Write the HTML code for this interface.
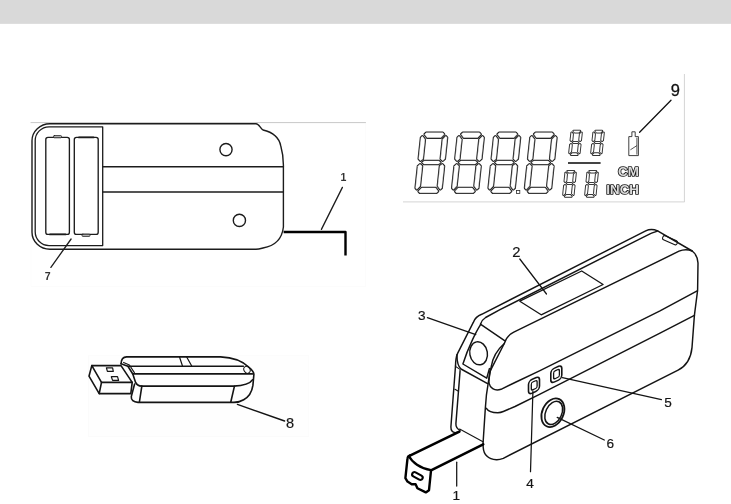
<!DOCTYPE html>
<html>
<head>
<meta charset="utf-8">
<title>Device diagram</title>
<style>
html,body{margin:0;padding:0;background:#fff;}
body{width:731px;height:504px;overflow:hidden;position:relative;font-family:"Liberation Sans",sans-serif;}
#bar{position:absolute;left:0;top:0;width:731px;height:23px;background:#d9d9d9;border-bottom:1px solid #dedede;}
svg{position:absolute;left:0;top:0;will-change:transform;}
text{font-family:"Liberation Sans",sans-serif;}
</style>
</head>
<body>
<div id="bar"></div>
<svg width="731" height="504" viewBox="0 0 731 504">

<rect x="31" y="122.6" width="334.7" height="163.7" fill="#fff" stroke="#fbfbfb" stroke-width="0.6"/>
<rect x="88.6" y="355.8" width="220.2" height="80.7" fill="#fefefe" stroke="#f9f9f9" stroke-width="0.6"/>
<!-- ============ TOP-LEFT : back view of device ============ -->
<g id="backview" fill="none" stroke="#1c1c1c" stroke-width="1.2" stroke-linecap="round" stroke-linejoin="round">
  <line x1="31" y1="122.6" x2="365.5" y2="122.6" stroke="#c8c8c8" stroke-width="1"/>
  <!-- outer outline -->
  <path d="M50,123.7 L256,123.7 C259,123.7 260.5,128.5 263,130 C272,132 279,137 280.8,146 C282.5,152 283.4,158 283.4,165 L283.4,227 C282,240 274,246 263,248 C260,248.8 258,249.3 256,249.3 L50,249.3 A18,17 0 0 1 32,232.3 L32,140.7 A18,17 0 0 1 50,123.7 Z" stroke-width="1.4"/>
  <!-- inner battery-bay outline -->
  <path d="M102.7,126.8 L49,126.8 A13.8,13.8 0 0 0 35.2,140.6 L35.2,231.8 A13.8,13.8 0 0 0 49,245.6 L102.7,245.6 Z" stroke-width="1.3"/>
  <!-- band lines -->
  <line x1="102.7" y1="166.8" x2="283.4" y2="166.8" stroke-width="1.4"/>
  <line x1="102.7" y1="192" x2="283.4" y2="192" stroke-width="1.4"/>
  <!-- batteries -->
  <rect x="45.8" y="137.4" width="23.6" height="97" rx="2.2" ry="2.2" stroke-width="1.35"/>
  <rect x="74.3" y="137.4" width="23.9" height="97" rx="2.2" ry="2.2" stroke-width="1.35"/>
  <rect x="53.5" y="135.6" width="8" height="2.2" rx="0.8" fill="#bdbdbd" stroke-width="0.8"/>
  <rect x="82" y="234.2" width="8" height="2.2" rx="0.8" fill="#bdbdbd" stroke-width="0.8"/>
  <line x1="50" y1="234.4" x2="65.5" y2="234.4" stroke-width="1.8"/>
  <line x1="79" y1="137.4" x2="93.5" y2="137.4" stroke-width="1.8"/>
  <!-- screw holes -->
  <circle cx="226" cy="149.6" r="6.1" stroke-width="1.4"/>
  <circle cx="239.4" cy="220.4" r="6.1" stroke-width="1.4"/>
  <!-- tape-back -->
  <path d="M283.6,232 L345.5,232 L345.5,255.4" stroke="#000" stroke-width="2.4" stroke-linecap="butt" stroke-linejoin="round"/>
  <!-- leaders -->
  <line x1="342.4" y1="187.4" x2="321.4" y2="229.4" stroke-width="1.3"/>
  <line x1="71.1" y1="239" x2="50.9" y2="267.4" stroke-width="1.3"/>
</g>
<text x="343.4" y="180.8" font-size="10.6" font-weight="bold" text-anchor="middle" fill="#333">1</text>
<text x="47.6" y="279.9" font-size="10.6" font-weight="bold" text-anchor="middle" fill="#333">7</text>

<!-- ============ TOP-RIGHT : LCD ============ -->
<g id="lcd">
  <line x1="403" y1="201.9" x2="684.6" y2="201.9" stroke="#d4d4d4" stroke-width="1"/>
  <line x1="684.4" y1="74" x2="684.4" y2="202" stroke="#d4d4d4" stroke-width="1"/>
  <g fill="#222" stroke="#222" stroke-width="2.60" stroke-linejoin="round"><polygon points="426.34,132.82 442.76,132.82 444.07,134.29 440.98,137.58 427.11,137.58 424.71,134.29"/><polygon points="419.94,192.78 436.36,192.78 437.99,191.31 435.59,188.02 421.72,188.02 418.63,191.31"/><polygon points="422.41,162.50 424.40,161.12 438.66,161.12 440.35,162.50 438.36,163.88 424.11,163.88"/><polygon points="445.87,136.30 447.02,137.59 444.75,158.85 442.79,160.63 440.78,158.99 442.85,139.51"/><polygon points="440.22,189.30 441.64,188.01 443.97,166.15 442.39,164.37 440.03,166.01 437.89,186.09"/><polygon points="422.48,136.30 421.06,137.59 418.79,158.85 420.38,160.63 422.74,158.99 424.81,139.51"/><polygon points="416.83,189.30 415.68,188.01 418.01,166.15 419.98,164.37 421.99,166.01 419.85,186.09"/></g><g fill="#fff" stroke="#fff" stroke-width="0.40" stroke-linejoin="round"><polygon points="426.34,132.82 442.76,132.82 444.07,134.29 440.98,137.58 427.11,137.58 424.71,134.29"/><polygon points="419.94,192.78 436.36,192.78 437.99,191.31 435.59,188.02 421.72,188.02 418.63,191.31"/><polygon points="422.41,162.50 424.40,161.12 438.66,161.12 440.35,162.50 438.36,163.88 424.11,163.88"/><polygon points="445.87,136.30 447.02,137.59 444.75,158.85 442.79,160.63 440.78,158.99 442.85,139.51"/><polygon points="440.22,189.30 441.64,188.01 443.97,166.15 442.39,164.37 440.03,166.01 437.89,186.09"/><polygon points="422.48,136.30 421.06,137.59 418.79,158.85 420.38,160.63 422.74,158.99 424.81,139.51"/><polygon points="416.83,189.30 415.68,188.01 418.01,166.15 419.98,164.37 421.99,166.01 419.85,186.09"/></g>
<g fill="#222" stroke="#222" stroke-width="2.60" stroke-linejoin="round"><polygon points="462.94,132.82 479.36,132.82 480.67,134.29 477.58,137.58 463.71,137.58 461.31,134.29"/><polygon points="456.54,192.78 472.96,192.78 474.59,191.31 472.19,188.02 458.32,188.02 455.23,191.31"/><polygon points="459.01,162.50 461.00,161.12 475.26,161.12 476.95,162.50 474.96,163.88 460.71,163.88"/><polygon points="482.47,136.30 483.62,137.59 481.35,158.85 479.39,160.63 477.38,158.99 479.45,139.51"/><polygon points="476.82,189.30 478.24,188.01 480.57,166.15 478.99,164.37 476.63,166.01 474.49,186.09"/><polygon points="459.08,136.30 457.66,137.59 455.39,158.85 456.98,160.63 459.34,158.99 461.41,139.51"/><polygon points="453.43,189.30 452.28,188.01 454.61,166.15 456.58,164.37 458.59,166.01 456.45,186.09"/></g><g fill="#fff" stroke="#fff" stroke-width="0.40" stroke-linejoin="round"><polygon points="462.94,132.82 479.36,132.82 480.67,134.29 477.58,137.58 463.71,137.58 461.31,134.29"/><polygon points="456.54,192.78 472.96,192.78 474.59,191.31 472.19,188.02 458.32,188.02 455.23,191.31"/><polygon points="459.01,162.50 461.00,161.12 475.26,161.12 476.95,162.50 474.96,163.88 460.71,163.88"/><polygon points="482.47,136.30 483.62,137.59 481.35,158.85 479.39,160.63 477.38,158.99 479.45,139.51"/><polygon points="476.82,189.30 478.24,188.01 480.57,166.15 478.99,164.37 476.63,166.01 474.49,186.09"/><polygon points="459.08,136.30 457.66,137.59 455.39,158.85 456.98,160.63 459.34,158.99 461.41,139.51"/><polygon points="453.43,189.30 452.28,188.01 454.61,166.15 456.58,164.37 458.59,166.01 456.45,186.09"/></g>
<g fill="#222" stroke="#222" stroke-width="2.60" stroke-linejoin="round"><polygon points="499.34,132.82 515.76,132.82 517.07,134.29 513.98,137.58 500.11,137.58 497.71,134.29"/><polygon points="492.94,192.78 509.36,192.78 510.99,191.31 508.59,188.02 494.72,188.02 491.63,191.31"/><polygon points="495.41,162.50 497.40,161.12 511.66,161.12 513.35,162.50 511.36,163.88 497.11,163.88"/><polygon points="518.87,136.30 520.02,137.59 517.75,158.85 515.79,160.63 513.78,158.99 515.85,139.51"/><polygon points="513.22,189.30 514.64,188.01 516.97,166.15 515.39,164.37 513.03,166.01 510.89,186.09"/><polygon points="495.48,136.30 494.06,137.59 491.79,158.85 493.38,160.63 495.74,158.99 497.81,139.51"/><polygon points="489.83,189.30 488.68,188.01 491.01,166.15 492.98,164.37 494.99,166.01 492.85,186.09"/></g><g fill="#fff" stroke="#fff" stroke-width="0.40" stroke-linejoin="round"><polygon points="499.34,132.82 515.76,132.82 517.07,134.29 513.98,137.58 500.11,137.58 497.71,134.29"/><polygon points="492.94,192.78 509.36,192.78 510.99,191.31 508.59,188.02 494.72,188.02 491.63,191.31"/><polygon points="495.41,162.50 497.40,161.12 511.66,161.12 513.35,162.50 511.36,163.88 497.11,163.88"/><polygon points="518.87,136.30 520.02,137.59 517.75,158.85 515.79,160.63 513.78,158.99 515.85,139.51"/><polygon points="513.22,189.30 514.64,188.01 516.97,166.15 515.39,164.37 513.03,166.01 510.89,186.09"/><polygon points="495.48,136.30 494.06,137.59 491.79,158.85 493.38,160.63 495.74,158.99 497.81,139.51"/><polygon points="489.83,189.30 488.68,188.01 491.01,166.15 492.98,164.37 494.99,166.01 492.85,186.09"/></g>
<g fill="#222" stroke="#222" stroke-width="2.60" stroke-linejoin="round"><polygon points="535.74,132.82 552.16,132.82 553.47,134.29 550.38,137.58 536.51,137.58 534.11,134.29"/><polygon points="529.34,192.78 545.76,192.78 547.39,191.31 544.99,188.02 531.12,188.02 528.03,191.31"/><polygon points="531.81,162.50 533.80,161.12 548.06,161.12 549.75,162.50 547.76,163.88 533.51,163.88"/><polygon points="555.27,136.30 556.42,137.59 554.15,158.85 552.19,160.63 550.18,158.99 552.25,139.51"/><polygon points="549.62,189.30 551.04,188.01 553.37,166.15 551.79,164.37 549.43,166.01 547.29,186.09"/><polygon points="531.88,136.30 530.46,137.59 528.19,158.85 529.78,160.63 532.14,158.99 534.21,139.51"/><polygon points="526.23,189.30 525.08,188.01 527.41,166.15 529.38,164.37 531.39,166.01 529.25,186.09"/></g><g fill="#fff" stroke="#fff" stroke-width="0.40" stroke-linejoin="round"><polygon points="535.74,132.82 552.16,132.82 553.47,134.29 550.38,137.58 536.51,137.58 534.11,134.29"/><polygon points="529.34,192.78 545.76,192.78 547.39,191.31 544.99,188.02 531.12,188.02 528.03,191.31"/><polygon points="531.81,162.50 533.80,161.12 548.06,161.12 549.75,162.50 547.76,163.88 533.51,163.88"/><polygon points="555.27,136.30 556.42,137.59 554.15,158.85 552.19,160.63 550.18,158.99 552.25,139.51"/><polygon points="549.62,189.30 551.04,188.01 553.37,166.15 551.79,164.37 549.43,166.01 547.29,186.09"/><polygon points="531.88,136.30 530.46,137.59 528.19,158.85 529.78,160.63 532.14,158.99 534.21,139.51"/><polygon points="526.23,189.30 525.08,188.01 527.41,166.15 529.38,164.37 531.39,166.01 529.25,186.09"/></g>
<g fill="#222" stroke="#222" stroke-width="2.00" stroke-linejoin="round"><polygon points="573.54,130.70 580.03,130.70 580.21,130.90 578.55,132.40 574.66,132.40 573.32,130.90"/><polygon points="570.97,154.90 577.46,154.90 577.68,154.70 576.34,153.20 572.45,153.20 570.79,154.70"/><polygon points="572.76,142.50 573.58,141.90 577.61,141.90 578.31,142.50 577.49,143.10 573.45,143.10"/><polygon points="581.60,132.46 581.78,132.66 580.97,140.29 580.15,141.03 579.27,140.27 579.94,133.96"/><polygon points="579.40,153.14 579.62,152.94 580.50,144.71 579.84,143.97 578.80,144.73 578.06,151.64"/><polygon points="571.60,132.46 571.38,132.66 570.57,140.29 571.23,141.03 572.27,140.27 572.94,133.96"/><polygon points="569.40,153.14 569.22,152.94 570.10,144.71 570.92,143.97 571.80,144.73 571.06,151.64"/></g><g fill="#fff" stroke="#fff" stroke-width="0.20" stroke-linejoin="round"><polygon points="573.54,130.70 580.03,130.70 580.21,130.90 578.55,132.40 574.66,132.40 573.32,130.90"/><polygon points="570.97,154.90 577.46,154.90 577.68,154.70 576.34,153.20 572.45,153.20 570.79,154.70"/><polygon points="572.76,142.50 573.58,141.90 577.61,141.90 578.31,142.50 577.49,143.10 573.45,143.10"/><polygon points="581.60,132.46 581.78,132.66 580.97,140.29 580.15,141.03 579.27,140.27 579.94,133.96"/><polygon points="579.40,153.14 579.62,152.94 580.50,144.71 579.84,143.97 578.80,144.73 578.06,151.64"/><polygon points="571.60,132.46 571.38,132.66 570.57,140.29 571.23,141.03 572.27,140.27 572.94,133.96"/><polygon points="569.40,153.14 569.22,152.94 570.10,144.71 570.92,143.97 571.80,144.73 571.06,151.64"/></g>
<g fill="#222" stroke="#222" stroke-width="2.00" stroke-linejoin="round"><polygon points="595.54,130.70 602.03,130.70 602.21,130.90 600.55,132.40 596.66,132.40 595.32,130.90"/><polygon points="592.97,154.90 599.46,154.90 599.68,154.70 598.34,153.20 594.45,153.20 592.79,154.70"/><polygon points="594.76,142.50 595.58,141.90 599.61,141.90 600.31,142.50 599.49,143.10 595.45,143.10"/><polygon points="603.60,132.46 603.78,132.66 602.97,140.29 602.15,141.03 601.27,140.27 601.94,133.96"/><polygon points="601.40,153.14 601.62,152.94 602.50,144.71 601.84,143.97 600.80,144.73 600.06,151.64"/><polygon points="593.60,132.46 593.38,132.66 592.57,140.29 593.23,141.03 594.27,140.27 594.94,133.96"/><polygon points="591.40,153.14 591.22,152.94 592.10,144.71 592.92,143.97 593.80,144.73 593.06,151.64"/></g><g fill="#fff" stroke="#fff" stroke-width="0.20" stroke-linejoin="round"><polygon points="595.54,130.70 602.03,130.70 602.21,130.90 600.55,132.40 596.66,132.40 595.32,130.90"/><polygon points="592.97,154.90 599.46,154.90 599.68,154.70 598.34,153.20 594.45,153.20 592.79,154.70"/><polygon points="594.76,142.50 595.58,141.90 599.61,141.90 600.31,142.50 599.49,143.10 595.45,143.10"/><polygon points="603.60,132.46 603.78,132.66 602.97,140.29 602.15,141.03 601.27,140.27 601.94,133.96"/><polygon points="601.40,153.14 601.62,152.94 602.50,144.71 601.84,143.97 600.80,144.73 600.06,151.64"/><polygon points="593.60,132.46 593.38,132.66 592.57,140.29 593.23,141.03 594.27,140.27 594.94,133.96"/><polygon points="591.40,153.14 591.22,152.94 592.10,144.71 592.92,143.97 593.80,144.73 593.06,151.64"/></g>
<g fill="#222" stroke="#222" stroke-width="2.00" stroke-linejoin="round"><polygon points="567.55,170.90 574.03,170.90 574.21,171.10 572.56,172.60 568.68,172.60 567.33,171.10"/><polygon points="564.97,196.70 571.45,196.70 571.67,196.50 570.32,195.00 566.44,195.00 564.79,196.50"/><polygon points="566.76,183.50 567.57,182.90 571.61,182.90 572.30,183.50 571.49,184.10 567.45,184.10"/><polygon points="575.61,172.66 575.79,172.86 574.95,181.29 574.14,182.03 573.25,181.27 573.96,174.16"/><polygon points="573.39,194.94 573.61,194.74 574.51,185.71 573.84,184.97 572.81,185.73 572.04,193.44"/><polygon points="565.61,172.66 565.39,172.86 564.55,181.29 565.22,182.03 566.25,181.27 566.96,174.16"/><polygon points="563.39,194.94 563.21,194.74 564.11,185.71 564.92,184.97 565.81,185.73 565.04,193.44"/></g><g fill="#fff" stroke="#fff" stroke-width="0.20" stroke-linejoin="round"><polygon points="567.55,170.90 574.03,170.90 574.21,171.10 572.56,172.60 568.68,172.60 567.33,171.10"/><polygon points="564.97,196.70 571.45,196.70 571.67,196.50 570.32,195.00 566.44,195.00 564.79,196.50"/><polygon points="566.76,183.50 567.57,182.90 571.61,182.90 572.30,183.50 571.49,184.10 567.45,184.10"/><polygon points="575.61,172.66 575.79,172.86 574.95,181.29 574.14,182.03 573.25,181.27 573.96,174.16"/><polygon points="573.39,194.94 573.61,194.74 574.51,185.71 573.84,184.97 572.81,185.73 572.04,193.44"/><polygon points="565.61,172.66 565.39,172.86 564.55,181.29 565.22,182.03 566.25,181.27 566.96,174.16"/><polygon points="563.39,194.94 563.21,194.74 564.11,185.71 564.92,184.97 565.81,185.73 565.04,193.44"/></g>
<g fill="#222" stroke="#222" stroke-width="2.00" stroke-linejoin="round"><polygon points="589.55,170.90 596.03,170.90 596.21,171.10 594.56,172.60 590.68,172.60 589.33,171.10"/><polygon points="586.97,196.70 593.45,196.70 593.67,196.50 592.32,195.00 588.44,195.00 586.79,196.50"/><polygon points="588.76,183.50 589.57,182.90 593.61,182.90 594.30,183.50 593.49,184.10 589.45,184.10"/><polygon points="597.61,172.66 597.79,172.86 596.95,181.29 596.14,182.03 595.25,181.27 595.96,174.16"/><polygon points="595.39,194.94 595.61,194.74 596.51,185.71 595.84,184.97 594.81,185.73 594.04,193.44"/><polygon points="587.61,172.66 587.39,172.86 586.55,181.29 587.22,182.03 588.25,181.27 588.96,174.16"/><polygon points="585.39,194.94 585.21,194.74 586.11,185.71 586.92,184.97 587.81,185.73 587.04,193.44"/></g><g fill="#fff" stroke="#fff" stroke-width="0.20" stroke-linejoin="round"><polygon points="589.55,170.90 596.03,170.90 596.21,171.10 594.56,172.60 590.68,172.60 589.33,171.10"/><polygon points="586.97,196.70 593.45,196.70 593.67,196.50 592.32,195.00 588.44,195.00 586.79,196.50"/><polygon points="588.76,183.50 589.57,182.90 593.61,182.90 594.30,183.50 593.49,184.10 589.45,184.10"/><polygon points="597.61,172.66 597.79,172.86 596.95,181.29 596.14,182.03 595.25,181.27 595.96,174.16"/><polygon points="595.39,194.94 595.61,194.74 596.51,185.71 595.84,184.97 594.81,185.73 594.04,193.44"/><polygon points="587.61,172.66 587.39,172.86 586.55,181.29 587.22,182.03 588.25,181.27 588.96,174.16"/><polygon points="585.39,194.94 585.21,194.74 586.11,185.71 586.92,184.97 587.81,185.73 587.04,193.44"/></g>
  <rect x="516.6" y="190.4" width="3.2" height="3.2" fill="#fff" stroke="#2a2a2a" stroke-width="0.8"/>
  <line x1="568" y1="163" x2="600.6" y2="163" stroke="#444" stroke-width="1.9"/>
  <!-- battery icon -->
  <g fill="none" stroke="#2a2a2a" stroke-width="0.9" stroke-linejoin="round">
    <path d="M628.8,136.6 L631.9,136.6 L631.9,131.8 L635.2,131.8 L635.2,136.6 L638.4,136.6 L638.4,155.6 L628.8,155.6 Z"/>
    <path d="M630.4,149.8 L636.9,145.6 M636.9,137.6 L636.9,154.6" stroke-width="0.8"/>
  </g>
  <text x="618" y="175.5" font-size="13.6" font-weight="bold" fill="#dcdcdc" stroke="#161616" stroke-width="1.7" paint-order="stroke" stroke-linejoin="round" textLength="20.8" lengthAdjust="spacingAndGlyphs">CM</text>
  <text x="606.3" y="194.4" font-size="13.6" font-weight="bold" fill="#dcdcdc" stroke="#161616" stroke-width="1.7" paint-order="stroke" stroke-linejoin="round" textLength="32.6" lengthAdjust="spacingAndGlyphs">INCH</text>
  <line x1="671" y1="100.2" x2="639.6" y2="132.2" stroke="#111" stroke-width="1.3" stroke-linecap="round"/>
  <text x="675.4" y="95.9" font-size="16.5" text-anchor="middle" fill="#111" stroke="#111" stroke-width="0.3">9</text>
</g>

<!-- ============ BOTTOM-LEFT : USB dongle ============ -->
<g id="usb" fill="none" stroke="#141414" stroke-width="1.6" stroke-linecap="round" stroke-linejoin="round">
  <!-- plug -->
  <path d="M91.8,365.6 L121,365.6 L132.2,382.4 L101.5,382.4 Z"/>
  <path d="M91.8,365.6 L89,376.2 L99.2,393.6 L101.5,382.4"/>
  <path d="M99.2,393.6 L130.8,393.6 L132.2,382.4"/>
  <path d="M106.4,367.9 L112.6,367.9 L113.3,371.4 L107.4,371.4 Z" stroke-width="1.2"/>
  <path d="M111.3,376.7 L117.5,376.7 L118.6,380.4 L112.6,380.4 Z" stroke-width="1.2"/>
  <!-- body top -->
  <path d="M121,363.8 C121.2,359.6 123,356.9 126.6,356.9 L220.5,356.9 C233,357.4 243,361.4 249,367.4 C252,369.8 253.8,371.8 253.9,374.4 L252.9,385.4 C252,391.6 248.4,397.2 243.7,399.7 C241,401.4 238,402.3 234,402.4 L138,402.4 C133.4,402.2 131,400 131.3,396.6 L134.6,384"/>
  <path d="M121,363.8 L127.9,366.3 L132.8,374 L135.6,382.4 C136.6,385 138.6,386 141.8,386.1"/>
  <path d="M123.6,362.4 L129.4,365 L134.4,372.6" stroke-width="1.1"/>
  <path d="M127.9,366.2 L243.4,366.2"/>
  <path d="M132.8,373.9 L252.4,373.9" stroke-width="1.9"/>
  <path d="M141.8,386.1 L233.6,386.1 C243,385.6 250,383.8 252.4,379.8"/>
  <path d="M141.8,386.4 L139.4,402"/>
  <path d="M234.4,386.4 L230.8,402"/>
  <path d="M179.6,357.2 L182.4,365.8" stroke-width="1.2"/>
  <path d="M186.8,357.2 L191.6,365.8" stroke-width="1.2"/>
  <ellipse cx="247" cy="369.8" rx="3" ry="3.6" stroke-width="1" transform="rotate(-30 247 369.8)"/>
  <line x1="237.4" y1="404.4" x2="284.6" y2="421" stroke-width="1.4"/>
</g>
<text x="290" y="427.8" font-size="14.5" text-anchor="middle" fill="#161616" stroke="#161616" stroke-width="0.2">8</text>

<!-- ============ BOTTOM-RIGHT : perspective view ============ -->
<g id="persp" fill="none" stroke="#141414" stroke-width="1.45" stroke-linecap="round" stroke-linejoin="round">
  <!-- outer top edge + right side + bottom -->
  <path d="M455.5,366 C455.6,360 456.2,356.6 457.6,353.4 L473.3,322.4 C475,318 478,315.6 481.7,314.3 L645.7,230.8 C649,229.2 654,229.2 657.6,230.8 L692.2,251 C696,254 697.8,258 698,263 L697.6,290.4 L694.4,315.4 L692,347.6 C691,358 686,366 678.1,370.2 L503.3,458.3 C500,459.6 498.4,459.8 496.4,459.7 C488,459 483.6,454 483.2,447.2 L483,444.3 L485.3,408.6 L486.4,395.2 L490,371.4"/>
  <!-- inner top line -->
  <path d="M480.6,324 C481.6,321 483.2,319 485.6,317.5 L500,309.7 L640,238.8 L650,233.9 C653,232.6 655.6,231.8 657.6,230.8"/>
  <!-- front-top edge -->
  <path d="M490,371.4 L504.3,343.5 C506,338 509,334.5 513.8,332.2 L679,251.2 C683,249.4 688,249.2 692.2,251"/>
  <!-- top face to lens face edge -->
  <path d="M480.4,324.2 L504.6,340.6"/>
  <!-- lens face -->
  <path d="M480.6,324.6 C477,330 468.6,346 462.9,364 L486.7,378.2 L489.4,368.6"/>
  <path d="M456.9,354.6 C457,362 458.2,367 461,369 L487.6,383.6"/>
  <path d="M455.8,366.6 L460,369.4" stroke-width="1.1"/>
  <path d="M454.9,389.3 L458.5,391.3" stroke-width="1.1"/>
  <path d="M504.3,343.5 C497,350 492.5,359 491.4,366 C490,372 489,378 488.8,382.6"/>
  <ellipse cx="478.6" cy="353.3" rx="8.8" ry="11.6" transform="rotate(-10 478.6 353.3)"/>
  <!-- display window -->
  <path d="M519.8,301.2 L581.7,271 L603.1,284.5 L541.2,314.8 Z" stroke-width="1.3"/>
  <!-- slot top right -->
  <rect x="662.2" y="238.1" width="15.6" height="4.3" rx="1.6" ry="1.6" transform="rotate(23.5 670 240.25)" stroke-width="1.1"/>
  <!-- band lines on front -->
  <path d="M488.8,382.6 C490,387.6 494,391.4 501,389.3 L515,382.5 L540,370.6 L660,310.8 L697.2,290.8"/>
  <path d="M486.4,408.3 C488,411 492,412.7 497.8,412.7 C500,412.7 502,412.1 503.3,411.5 L515,406.5 L540,394.2 L660,333.2 L694.4,315.4"/>
  <!-- left side under lens -->
  <path d="M455.5,366 L450.9,427 C450.9,430.4 452.6,432.4 455.2,432.6 L458.6,432"/>
  <path d="M460.1,370.6 L455.9,423.6 C455.8,426.4 457.4,429 460,430.4"/>
  <path d="M459.6,429 L483,441.8" stroke-width="1.1"/>
  <!-- buttons -->
  <g stroke-width="1.6">
    <rect x="-5.5" y="-6.9" width="11" height="13.8" rx="3.5" ry="3.5" transform="translate(534,385.4) skewY(-24)"/>
    <rect x="-2.9" y="-3.9" width="5.8" height="7.8" rx="1.7" ry="1.7" transform="translate(534.2,385.3) skewY(-24)" stroke-width="1.3"/>
    <rect x="-5.5" y="-6.9" width="11" height="13.8" rx="3.5" ry="3.5" transform="translate(556.3,374.2) skewY(-24)"/>
    <rect x="-2.9" y="-3.9" width="5.8" height="7.8" rx="1.7" ry="1.7" transform="translate(556.5,374.1) skewY(-24)" stroke-width="1.3"/>
  </g>
  <ellipse cx="552.9" cy="412.7" rx="10.6" ry="15" transform="rotate(25 552.9 412.7)" stroke-width="1.8"/>
  <ellipse cx="553.7" cy="412.9" rx="8" ry="12.3" transform="rotate(25 553.7 412.9)" stroke-width="1.5"/>
  <!-- tape -->
  <path d="M409.4,455.8 L459.4,431.6" stroke="#000" stroke-width="2.6"/>
  <path d="M431,470.4 L483.2,444.3" stroke="#000" stroke-width="2.6"/>
  <path d="M409,456.2 C412,462 420,468.4 431,470.2" stroke="#000" stroke-width="2.3"/>
  <path d="M409.6,455.6 C408.2,456 407.6,457 407.5,458.4 L405.4,478.2 L407.5,481.6 L411.7,484.2 L415.6,484.3 L417.4,488.2 L425.8,492.4 L429,490.2 L431,470.6" stroke="#000" stroke-width="2.4"/>
  <rect x="-5.7" y="-2.3" width="11.4" height="4.6" rx="2.3" ry="2.3" transform="translate(417.4,476) rotate(29)" stroke="#000" stroke-width="2.1"/>
  <!-- leaders -->
  <g stroke-width="1.25">
    <line x1="519.8" y1="259" x2="546.5" y2="294"/>
    <line x1="427.4" y1="317.6" x2="475.8" y2="334.6"/>
    <line x1="562.4" y1="377.6" x2="661.4" y2="399.6"/>
    <line x1="557.2" y1="417.4" x2="604.3" y2="440"/>
    <line x1="532.9" y1="391.2" x2="530.5" y2="471.7"/>
    <line x1="456.7" y1="462.2" x2="456.7" y2="486"/>
  </g>
</g>
<g font-size="13.6" text-anchor="middle" fill="#161616" stroke="#161616" stroke-width="0.2">
  <text x="516.4" y="256.9" font-size="14.8">2</text>
  <text x="421.8" y="320.2">3</text>
  <text x="530" y="487.6">4</text>
  <text x="668.1" y="406.9">5</text>
  <text x="610.2" y="448.2">6</text>
  <text x="456.2" y="500">1</text>
</g>
</svg>
</body>
</html>
